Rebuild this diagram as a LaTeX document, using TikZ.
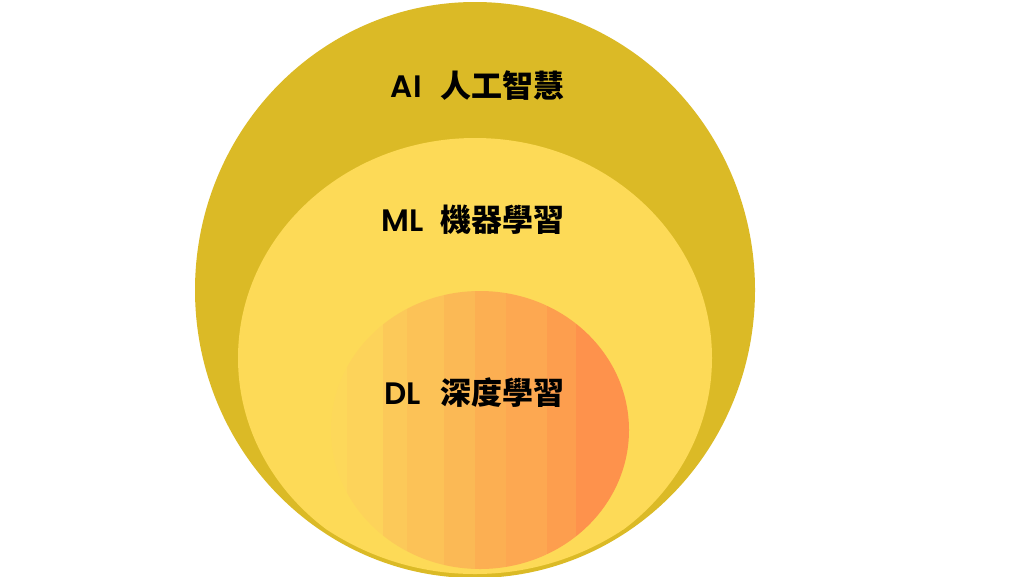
\documentclass[tikz,border=0pt]{standalone}
\usepackage{fontspec}
\setmainfont{Poppins}[BoldFont={Poppins SemiBold}]
\newfontfamily\cjk{Noto Sans CJK TC}
\definecolor{outerc}{HTML}{DBBA26}
\definecolor{midc}{HTML}{FDDA57}
\definecolor{b0}{HTML}{FDD85A}
\definecolor{b1}{HTML}{FDD35A}
\definecolor{b2}{HTML}{FCC959}
\definecolor{b3}{HTML}{FCC257}
\definecolor{b4}{HTML}{FBB955}
\definecolor{b5}{HTML}{FCAF52}
\definecolor{b6}{HTML}{FDA851}
\definecolor{b7}{HTML}{FD9E4E}
\definecolor{b8}{HTML}{FE924C}
\tikzset{
  lbl/.style={inner sep=0pt, anchor=east, font=\fontsize{31}{31}\selectfont\bfseries, text=black},
}
\newcommand{\zh}[1]{{\cjk\bfseries #1}}
\begin{document}
\begin{tikzpicture}[x=1pt,y=-1pt]
\useasboundingbox (0,0) rectangle (1024,576);
\fill[white] (0,0) rectangle (1024,576);
% outer ellipse
\fill[outerc] (475,290) ellipse [x radius=280pt, y radius=288pt];
% middle ellipse clipped to outer inset
\begin{scope}
  \clip (475,290) ellipse [x radius=276pt, y radius=284pt];
  \fill[midc] (475,358) ellipse [x radius=237pt, y radius=220pt];
  \clip (480,430) ellipse [x radius=149pt, y radius=139pt];
  \fill[b0] (320,0) rectangle (347,576);
  \fill[b1] (347,0) rectangle (383,576);
  \fill[b2] (383,0) rectangle (407,576);
  \fill[b3] (407,0) rectangle (444,576);
  \fill[b4] (444,0) rectangle (475,576);
  \fill[b5] (475,0) rectangle (506,576);
  \fill[b6] (506,0) rectangle (547,576);
  \fill[b7] (547,0) rectangle (576,576);
  \fill[b8] (576,0) rectangle (640,576);
\end{scope}
\node[lbl] (ai) at (565,86) {AI\hspace{19pt}\zh{人工智慧}};
\node[lbl] (ml) at (565,220) {ML\hspace{17pt}\zh{機器學習}};
\node[lbl] (dl) at (565,393) {DL\hspace{20pt}\zh{深度學習}};
\end{tikzpicture}
\end{document}
